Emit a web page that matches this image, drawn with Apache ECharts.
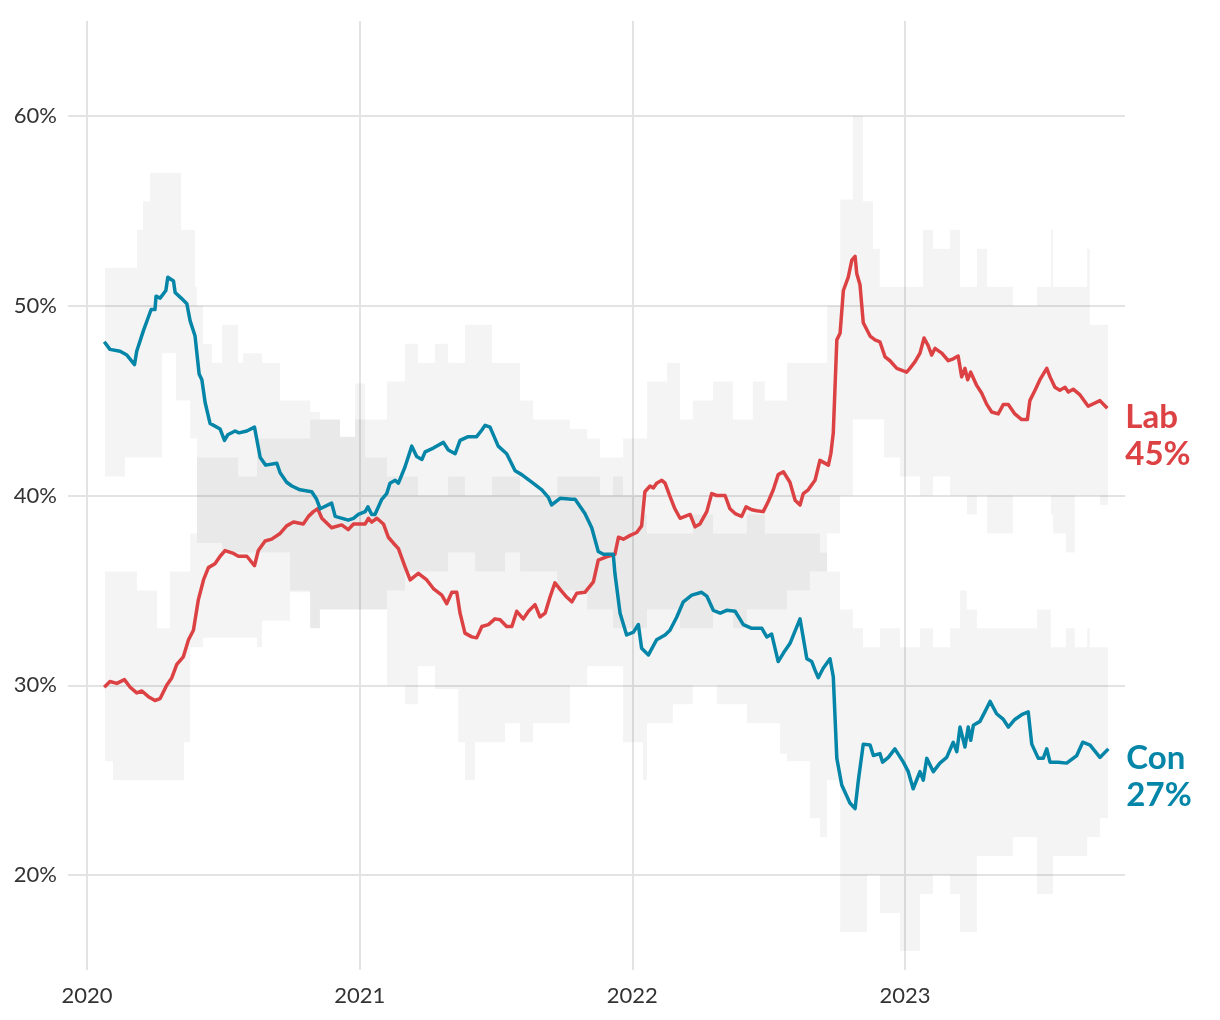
<!DOCTYPE html>
<html>
<head>
<meta charset="utf-8">
<script src="https://cdn.jsdelivr.net/npm/echarts@6/dist/echarts.min.js"></script>
<style>
html,body{margin:0;padding:0;background:#ffffff;}
#chart{width:1220px;height:1020px;}
</style>
</head>
<body>
<div id="chart"></div>
<script>
// ---- data (dates as decimal years) ----
const yearTicks = [2020, 2021, 2022, 2023];
const yTickValues = [20, 30, 40, 50, 60];
const partyNames = ['Lab', 'Con'];
const latestShares = [45, 27];

const labPoints = [[2020.063,29.9],[2020.084,30.2],[2020.109,30.1],[2020.137,30.3],[2020.158,29.9],[2020.182,29.6],[2020.201,29.7],[2020.225,29.4],[2020.249,29.2],[2020.268,29.3],[2020.292,30.0],[2020.311,30.4],[2020.329,31.1],[2020.353,31.5],[2020.372,32.4],[2020.390,32.9],[2020.408,34.5],[2020.427,35.55],[2020.445,36.2],[2020.469,36.4],[2020.488,36.8],[2020.506,37.1],[2020.537,36.95],[2020.555,36.8],[2020.586,36.8],[2020.614,36.3],[2020.628,37.1],[2020.653,37.6],[2020.677,37.7],[2020.708,38.0],[2020.732,38.4],[2020.757,38.6],[2020.793,38.5],[2020.812,38.9],[2020.830,39.15],[2020.846,39.3],[2020.861,38.8],[2020.897,38.3],[2020.934,38.45],[2020.958,38.2],[2020.977,38.5],[2021.020,38.5],[2021.032,38.8],[2021.044,38.6],[2021.063,38.8],[2021.087,38.5],[2021.105,37.8],[2021.123,37.5],[2021.142,37.2],[2021.166,36.25],[2021.185,35.55],[2021.215,35.9],[2021.246,35.55],[2021.270,35.1],[2021.301,34.75],[2021.319,34.3],[2021.338,34.9],[2021.356,34.9],[2021.368,33.8],[2021.386,32.75],[2021.411,32.55],[2021.429,32.5],[2021.448,33.1],[2021.472,33.2],[2021.496,33.5],[2021.515,33.45],[2021.539,33.1],[2021.558,33.1],[2021.576,33.9],[2021.600,33.5],[2021.619,33.9],[2021.643,34.25],[2021.661,33.6],[2021.680,33.8],[2021.698,34.65],[2021.716,35.4],[2021.738,35.0],[2021.759,34.65],[2021.778,34.4],[2021.796,34.85],[2021.826,34.9],[2021.857,35.45],[2021.875,36.6],[2021.912,36.8],[2021.936,36.9],[2021.949,37.8],[2021.967,37.7],[2021.992,37.9],[2022.016,38.05],[2022.034,38.4],[2022.046,40.2],[2022.065,40.5],[2022.077,40.4],[2022.089,40.65],[2022.108,40.8],[2022.120,40.65],[2022.138,39.95],[2022.156,39.3],[2022.175,38.8],[2022.193,38.9],[2022.212,39.0],[2022.230,38.35],[2022.248,38.5],[2022.273,39.15],[2022.291,40.1],[2022.309,40.0],[2022.340,40.0],[2022.358,39.3],[2022.377,39.05],[2022.401,38.9],[2022.417,39.4],[2022.438,39.25],[2022.456,39.2],[2022.480,39.15],[2022.499,39.7],[2022.517,40.3],[2022.535,41.1],[2022.554,41.25],[2022.578,40.7],[2022.597,39.75],[2022.615,39.5],[2022.627,40.1],[2022.645,40.3],[2022.670,40.8],[2022.688,41.85],[2022.719,41.6],[2022.728,42.2],[2022.737,43.3],[2022.750,48.2],[2022.762,48.55],[2022.774,50.8],[2022.792,51.5],[2022.805,52.4],[2022.817,52.6],[2022.823,51.7],[2022.835,51.1],[2022.847,49.1],[2022.872,48.4],[2022.890,48.2],[2022.908,48.1],[2022.927,47.3],[2022.945,47.1],[2022.970,46.7],[2023.006,46.5],[2023.018,46.7],[2023.037,47.05],[2023.055,47.5],[2023.070,48.3],[2023.085,47.9],[2023.098,47.4],[2023.110,47.75],[2023.135,47.5],[2023.159,47.1],[2023.177,47.2],[2023.195,47.35],[2023.208,46.25],[2023.220,46.7],[2023.230,46.1],[2023.241,46.5],[2023.263,45.8],[2023.281,45.4],[2023.300,44.8],[2023.318,44.4],[2023.342,44.3],[2023.361,44.8],[2023.379,44.8],[2023.403,44.3],[2023.428,44.0],[2023.449,44.0],[2023.458,45.0],[2023.477,45.55],[2023.495,46.1],[2023.520,46.7],[2023.532,46.25],[2023.550,45.7],[2023.568,45.55],[2023.587,45.7],[2023.599,45.45],[2023.617,45.6],[2023.642,45.3],[2023.672,44.7],[2023.715,45.0],[2023.742,44.6]];

const conPoints = [[2020.063,48.1],[2020.084,47.7],[2020.121,47.6],[2020.146,47.4],[2020.174,46.9],[2020.182,47.6],[2020.207,48.7],[2020.235,49.8],[2020.249,49.8],[2020.253,50.5],[2020.268,50.4],[2020.289,50.8],[2020.296,51.5],[2020.317,51.3],[2020.323,50.7],[2020.345,50.4],[2020.366,50.1],[2020.378,49.2],[2020.396,48.4],[2020.411,46.4],[2020.421,46.1],[2020.433,44.9],[2020.451,43.8],[2020.488,43.5],[2020.504,42.9],[2020.516,43.2],[2020.543,43.4],[2020.557,43.3],[2020.586,43.4],[2020.614,43.6],[2020.635,42.0],[2020.655,41.6],[2020.696,41.7],[2020.708,41.2],[2020.732,40.7],[2020.751,40.5],[2020.781,40.3],[2020.824,40.2],[2020.842,39.8],[2020.855,39.3],[2020.897,39.6],[2020.910,38.9],[2020.958,38.7],[2020.977,38.8],[2020.995,39.0],[2021.020,39.15],[2021.030,39.4],[2021.044,39.0],[2021.056,39.0],[2021.081,39.8],[2021.099,40.1],[2021.111,40.65],[2021.130,40.8],[2021.142,40.65],[2021.166,41.5],[2021.191,42.6],[2021.209,42.05],[2021.228,41.9],[2021.240,42.3],[2021.270,42.5],[2021.307,42.8],[2021.325,42.4],[2021.350,42.2],[2021.368,42.9],[2021.398,43.1],[2021.429,43.1],[2021.448,43.45],[2021.460,43.7],[2021.478,43.6],[2021.508,42.6],[2021.539,42.2],[2021.570,41.3],[2021.594,41.1],[2021.631,40.7],[2021.668,40.3],[2021.692,39.9],[2021.704,39.5],[2021.735,39.85],[2021.778,39.8],[2021.790,39.8],[2021.826,39.05],[2021.851,38.3],[2021.875,37.05],[2021.894,36.9],[2021.930,36.9],[2021.936,35.9],[2021.955,33.8],[2021.979,32.65],[2022.004,32.8],[2022.022,33.2],[2022.034,31.95],[2022.059,31.6],[2022.089,32.4],[2022.120,32.65],[2022.138,32.9],[2022.163,33.6],[2022.187,34.4],[2022.218,34.75],[2022.254,34.9],[2022.273,34.7],[2022.297,33.95],[2022.322,33.8],[2022.346,33.95],[2022.377,33.9],[2022.407,33.2],[2022.438,33.0],[2022.475,33.0],[2022.493,32.55],[2022.511,32.7],[2022.535,31.25],[2022.554,31.7],[2022.578,32.2],[2022.615,33.5],[2022.640,31.4],[2022.658,31.25],[2022.670,30.8],[2022.682,30.4],[2022.700,30.9],[2022.725,31.4],[2022.737,30.45],[2022.750,26.15],[2022.768,24.75],[2022.798,23.8],[2022.817,23.5],[2022.829,25.0],[2022.847,26.9],[2022.872,26.85],[2022.884,26.3],[2022.908,26.4],[2022.918,25.95],[2022.939,26.2],[2022.963,26.65],[2022.994,25.95],[2023.012,25.45],[2023.030,24.55],[2023.055,25.45],[2023.067,25.0],[2023.080,26.15],[2023.104,25.45],[2023.128,25.9],[2023.153,26.2],[2023.177,27.0],[2023.190,26.5],[2023.202,27.8],[2023.220,26.75],[2023.232,27.8],[2023.241,27.1],[2023.251,27.9],[2023.275,28.1],[2023.293,28.6],[2023.312,29.15],[2023.336,28.5],[2023.361,28.2],[2023.379,27.8],[2023.403,28.2],[2023.428,28.45],[2023.452,28.6],[2023.465,26.9],[2023.489,26.15],[2023.507,26.15],[2023.520,26.65],[2023.532,25.95],[2023.562,25.95],[2023.593,25.9],[2023.630,26.3],[2023.652,27.0],[2023.679,26.85],[2023.715,26.2],[2023.746,26.65]];

// poll range bands (each value holds until the next date)
const bandDates = [2020.066,2020.095,2020.139,2020.183,2020.205,2020.231,2020.257,2020.275,2020.304,2020.326,2020.345,2020.356,2020.378,2020.396,2020.403,2020.425,2020.458,2020.495,2020.554,2020.572,2020.623,2020.642,2020.708,2020.744,2020.818,2020.854,2020.928,2020.983,2021.020,2021.100,2021.166,2021.214,2021.276,2021.324,2021.361,2021.386,2021.423,2021.485,2021.533,2021.588,2021.636,2021.724,2021.771,2021.834,2021.881,2021.929,2021.966,2022.039,2022.054,2022.127,2022.149,2022.175,2022.222,2022.296,2022.310,2022.369,2022.420,2022.442,2022.486,2022.541,2022.567,2022.651,2022.688,2022.714,2022.762,2022.809,2022.846,2022.861,2022.883,2022.908,2022.923,2022.982,2023.055,2023.066,2023.103,2023.165,2023.202,2023.227,2023.264,2023.301,2023.396,2023.484,2023.535,2023.543,2023.590,2023.623,2023.668,2023.678,2023.715,2023.745];
const conHigh = [52,52,52,54,55.5,57,57,57,57,57,54,54,54,51,50,48,47,49,47,47.5,47.5,47,45,45,44.4,44,43.1,45.9,44,46,48,47,48,47,47,49,49,47,47,45,44,44,43.5,43,42,42,40,39,38,38,38,38,39,38,38,38,39,39,38,38,38,38,37,36,34,33,32,32,32,33,33,32,33,33,32,33,35,34,33,33,33,34,32,32,33,32,33,32,32,32];
const conLow  = [41,41,42,42,42,42,42,47.5,47.5,45,45,45,43,43,37.5,37.5,37.5,37,37,37,37,37,37,35,33,34,34,34,34,35,36,36,36,37,37,37,36,36,37,36,36,35,35,34,34,31,27,25,28,28,29,29,30,30,29,29,28,28,28,26.4,26,23,22,25,17,17,17,20,20,18,18,16,19,19,20,19,17,17,21,21,22,19,19,21,21,21,22,22,23,23];
const labHigh = [36,36,36,35,35,35,33,33,36,36,36,36,38,38,42,42,42,42,41,41,43,43,43,43,44,44,43.1,44,42,41,41,40,40,41,41,40,40,41,41,40,40,41,41,41,40,41,43,43,46,47,47,44,45,46,46,44,44,46,45,45,47,47,47,50,55.6,60,55.5,55.5,53,51,51,51,51,54,53,54,51,51,53,51,50,51,54,51,51,51,53,49,49,49];
const labLow  = [26,25,25,25,25,25,25,25,25,25,25,27,32,32,32,32.5,32.5,32.5,32.5,32.5,32,33.4,33.4,34.9,33,34,34,34,34,30,29,31,29.8,29.8,27,25,27,27,28,27,28,28,30,31,31,33,33,33,34,34,34,33,33,34,34,33,34,34,34,34,35,36,36,38,40,44,44,44,44,44,42,41,40,40,41,40,40,39,40,38,40,40,39,38,37,40,40,40,39.5,39.5];

// ---- chart ----
const LAB = '#dc4143';
const CON = '#0586a8';
const GRID = '#e3e3e3';
const FONT = 'Lato, "Noto Sans", "DejaVu Sans", sans-serif';
const BAND_FILL = 'rgba(0,0,0,0.042)';

// step-shaped polygon outline of a band, in data coordinates
function bandOutline(low, high) {
  const n = bandDates.length;
  const pts = [];
  for (let i = 0; i < n; i++) {
    const x0 = bandDates[i], x1 = bandDates[Math.min(i + 1, n - 1)];
    pts.push([x0, high[i]], [x1, high[i]]);
  }
  for (let i = n - 1; i >= 0; i--) {
    const x0 = bandDates[i], x1 = bandDates[Math.min(i + 1, n - 1)];
    pts.push([x1, low[i]], [x0, low[i]]);
  }
  return pts;
}

function bandSeries(key, low, high) {
  const outline = bandOutline(low, high);
  return {
    type: 'custom', name: key + 'Range', silent: true, z: 1, clip: true,
    data: [[bandDates[0], low[0]]],
    renderItem: (params, api) => ({
      type: 'polygon',
      shape: { points: outline.map(p => api.coord(p)) },
      style: { fill: BAND_FILL, stroke: null }
    })
  };
}

function partyLine(idx, points, color) {
  return {
    type: 'line', name: partyNames[idx], data: points, symbol: 'none', silent: true, z: 5,
    lineStyle: { color: color, width: 3.5, join: 'round' },
    endLabel: {
      show: true,
      formatter: () => partyNames[idx] + '\n' + latestShares[idx] + '%',
      color: color, fontFamily: FONT, fontSize: 33, fontWeight: 'bold', lineHeight: 37,
      distance: 18, offset: [0, 28]
    }
  };
}

const chart = echarts.init(document.getElementById('chart'), null, { renderer: 'canvas' });
chart.setOption({
  animation: false,
  backgroundColor: '#ffffff',
  grid: { left: 68, right: 95, top: 21, bottom: 50, containLabel: false },
  xAxis: {
    type: 'value', min: 2019.930, max: 2023.807,
    axisLine: { show: false },
    axisTick: { show: false, customValues: yearTicks },
    axisLabel: { customValues: yearTicks, formatter: v => String(Math.round(v)),
      fontFamily: FONT, fontSize: 22, color: '#333', margin: 15 },
    splitLine: { show: true, lineStyle: { color: GRID, width: 2 } }
  },
  yAxis: {
    type: 'value', min: 15, max: 65, interval: 5,
    axisLine: { show: false }, axisTick: { show: false },
    axisLabel: { formatter: v => (yTickValues.indexOf(v) >= 0 ? v + '%' : ''),
      fontFamily: FONT, fontSize: 22, color: '#333', margin: 11 },
    splitLine: { show: true, lineStyle: { color: ['rgba(0,0,0,0)', GRID], width: 2 } }
  },
  series: [
    bandSeries('con', conLow, conHigh),
    bandSeries('lab', labLow, labHigh),
    partyLine(0, labPoints, LAB),
    partyLine(1, conPoints, CON)
  ]
});
</script>
</body>
</html>
